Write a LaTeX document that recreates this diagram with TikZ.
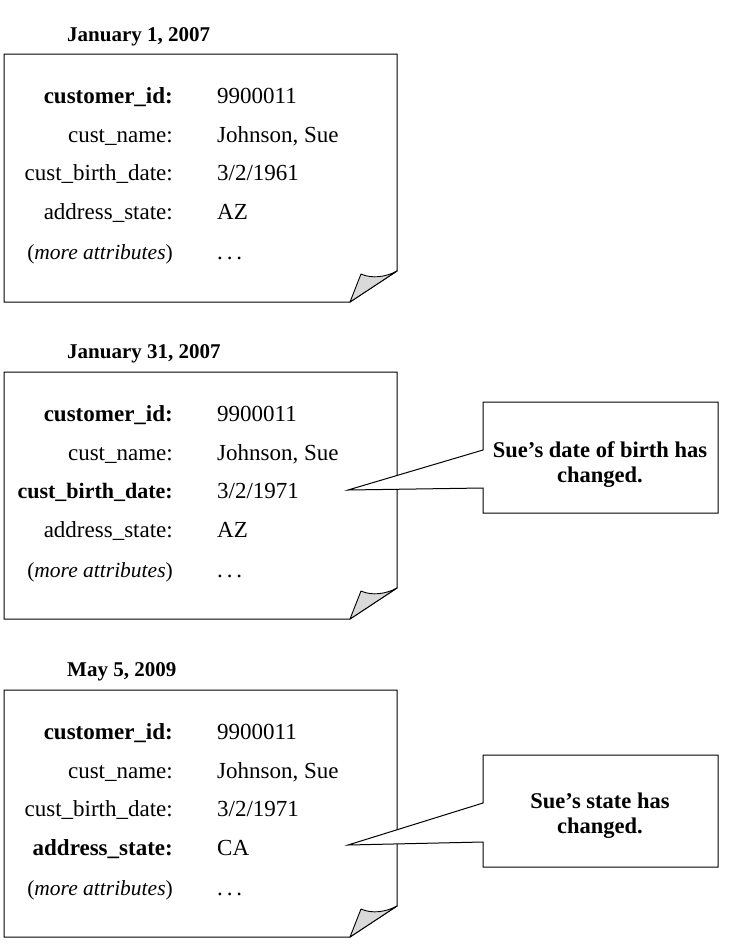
\documentclass[tikz,border=0pt]{standalone}
\usepackage{fontspec}
\setmainfont{Liberation Serif}
\begin{document}
\begin{tikzpicture}[x=1pt,y=-1pt,
  page/.style={draw=black,line width=1pt,fill=white,line join=miter},
  fold/.style={draw=black,line width=0.9pt,fill=black!15,line join=round},
  lbl/.style={anchor=base east,inner sep=0pt,font=\fontsize{23}{27}\selectfont},
  val/.style={anchor=base west,inner sep=0pt,font=\fontsize{23}{27}\selectfont},
  ttl/.style={anchor=base west,inner sep=0pt,font=\fontsize{21}{25}\selectfont\bfseries},
  callout/.style={draw=black,line width=1pt,fill=white},
  ctext/.style={align=center,inner sep=0pt,font=\fontsize{22.5}{25}\selectfont\bfseries}
]
\useasboundingbox (0,0) rectangle (730,948);

\foreach \T/\B/\n in {54/302/a,372/619/b,690/937/c}{
  \coordinate (\n tl) at (4,\T);
  \coordinate (\n tr) at (397,\T);
  \coordinate (\n rc) at (397,\B-31);
  \coordinate (\n bc) at (350,\B);
  \coordinate (\n bl) at (4,\B);
  \coordinate (\n fp) at (361,\B-28);
  \draw[page] (\n tl) -- (\n tr) -- (\n rc) -- (\n bc) -- (\n bl) -- cycle;
  \draw[fold] (\n bc) -- (\n fp) .. controls (372,\B-23) and (386,\B-25) .. (\n rc) -- cycle;
}

% ---------- card 1 ----------
\node[ttl] (t1) at (67,41) {January 1, 2007};
\node[lbl] (a1l) at (173,103) {\textbf{customer\_id:}};
\node[val] (a1v) at (217,103) {9900011};
\node[lbl] (a2l) at (173,142) {cust\_name:};
\node[val] (a2v) at (217,142) {Johnson, Sue};
\node[lbl] (a3l) at (173,180) {cust\_birth\_date:};
\node[val] (a3v) at (217,180) {3/2/1961};
\node[lbl] (a4l) at (173,219) {address\_state:};
\node[val] (a4v) at (217,219) {AZ};
\node[lbl] (a5l) at (173,259) {\fontsize{21.5}{25}\selectfont(\textit{more attributes})};
\node[val] (a5v) at (217,259) {.\,.\,.};

% ---------- card 2 ----------
\node[ttl] (t2) at (67,358) {January 31, 2007};
\node[lbl] (b1l) at (173,421) {\textbf{customer\_id:}};
\node[val] (b1v) at (217,421) {9900011};
\node[lbl] (b2l) at (173,460) {cust\_name:};
\node[val] (b2v) at (217,460) {Johnson, Sue};
\node[lbl] (b3l) at (173,498) {\fontsize{22}{26}\selectfont\textbf{cust\_birth\_date:}};
\node[val] (b3v) at (217,498) {3/2/1971};
\node[lbl] (b4l) at (173,537) {address\_state:};
\node[val] (b4v) at (217,537) {AZ};
\node[lbl] (b5l) at (173,577) {\fontsize{21.5}{25}\selectfont(\textit{more attributes})};
\node[val] (b5v) at (217,577) {.\,.\,.};

% ---------- card 3 ----------
\node[ttl] (t3) at (67,676) {May 5, 2009};
\node[lbl] (c1l) at (173,739) {\textbf{customer\_id:}};
\node[val] (c1v) at (217,739) {9900011};
\node[lbl] (c2l) at (173,778) {cust\_name:};
\node[val] (c2v) at (217,778) {Johnson, Sue};
\node[lbl] (c3l) at (173,816) {cust\_birth\_date:};
\node[val] (c3v) at (217,816) {3/2/1971};
\node[lbl] (c4l) at (173,855) {\textbf{address\_state:}};
\node[val] (c4v) at (217,855) {CA};
\node[lbl] (c5l) at (173,895) {\fontsize{21.5}{25}\selectfont(\textit{more attributes})};
\node[val] (c5v) at (217,895) {.\,.\,.};

% ---------- callout 1 ----------
\coordinate (k1tip) at (348,490);
\draw[callout] (k1tip) -- (483,450) -- (483,402) -- (718,402) -- (718,513) -- (483,513) -- (483,488) -- cycle;
\node[ctext] (k1) at (600,465) {Sue’s date of birth has\\changed.};

% ---------- callout 2 ----------
\coordinate (k2tip) at (348,845);
\draw[callout] (k2tip) -- (483,803) -- (483,755) -- (718,755) -- (718,867) -- (483,867) -- (483,842) -- cycle;
\node[ctext] (k2) at (600,816) {Sue’s state has\\changed.};
\end{tikzpicture}
\end{document}
